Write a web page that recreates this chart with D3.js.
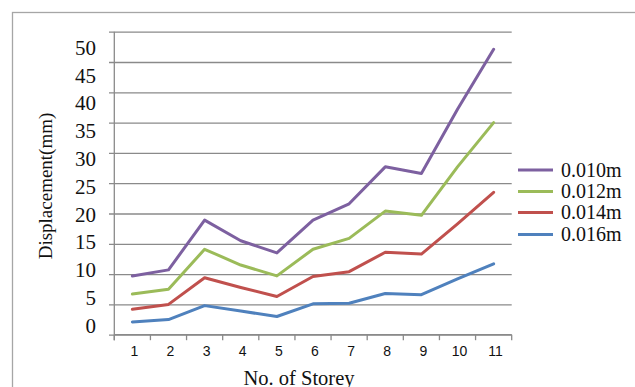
<!DOCTYPE html>
<html>
<head>
<meta charset="utf-8">
<script src="https://cdn.jsdelivr.net/npm/d3@7"></script>
<style>
  html, body { margin: 0; padding: 0; background: #fff; }
  svg { display: block; }
</style>
</head>
<body>
<svg id="chart" width="635" height="387"></svg>
<script>
// Storey numbers along the horizontal axis
const storeys = [1, 2, 3, 4, 5, 6, 7, 8, 9, 10, 11];

// Displacement (mm) per storey for each case
const d010 = [9.7, 10.7, 18.9, 15.5, 13.5, 18.9, 21.6, 27.7, 26.6, 37.2, 47.1];
const d012 = [6.7, 7.5, 14.1, 11.5, 9.7, 14.1, 15.9, 20.4, 19.7, 27.7, 35.0];
const d014 = [4.2, 5.0, 9.4, 7.8, 6.3, 9.6, 10.4, 13.6, 13.3, 18.3, 23.5];
const d016 = [2.1, 2.5, 4.8, 3.9, 3.0, 5.1, 5.2, 6.8, 6.6, 9.2, 11.7];

const seriesNames = ["0.010m", "0.012m", "0.014m", "0.016m"];
const seriesValues = [d010, d012, d014, d016];
const seriesColors = ["#7d60a0", "#9bbb59", "#c0504d", "#4f81bd"];

// Value-axis tick labels
const yTicks = [0, 5, 10, 15, 20, 25, 30, 35, 40, 45, 50];

const svg = d3.select("#chart");
const serif = "'Liberation Serif', 'Times New Roman', serif";
const sans = "'Liberation Sans', Arial, sans-serif";
const gridColor = "#8a8a8a";

// Chart frame
svg.append("rect")
  .attr("x", 12.5).attr("y", 12.5)
  .attr("width", 700).attr("height", 500)
  .attr("fill", "none").attr("stroke", "#a6a6a6").attr("stroke-width", 1.3);

const plotLeft = 114.3, plotRight = 511.7, plotTop = 31.7, plotBottom = 334.7;

const x = d3.scaleBand().domain(storeys).range([plotLeft, plotRight]).padding(0);
const y = d3.scaleLinear().domain([0, 50]).range([plotBottom, plotTop]);
// Value labels sit on their own, slightly tighter spacing
const yLabel = d3.scaleLinear().domain([0, 50]).range([325, 47.3]);

// Horizontal gridlines (with short stubs left of the axis)
const grid = svg.append("g")
  .attr("transform", `translate(${plotLeft - 5.3},0)`)
  .call(d3.axisLeft(y).tickValues(yTicks).tickSize(-(plotRight - plotLeft + 5.3)).tickFormat(""));
grid.select(".domain").remove();
grid.selectAll(".tick line").attr("stroke", gridColor).attr("stroke-width", 1.3);

// Vertical axis line
svg.append("line")
  .attr("x1", plotLeft).attr("x2", plotLeft)
  .attr("y1", plotTop).attr("y2", plotBottom + 5.5)
  .attr("stroke", gridColor).attr("stroke-width", 1.3);

// Value labels
const yl = svg.append("g")
  .attr("transform", "translate(96,0)")
  .call(d3.axisLeft(yLabel).tickValues(yTicks).tickSize(0).tickPadding(0));
yl.select(".domain").remove();
yl.selectAll("text")
  .attr("font-family", serif).attr("font-size", 21)
  .attr("fill", "#111").attr("dy", "0.34em");

// Category axis: baseline and tick marks at band edges
const xEdges = storeys.map(s => x(s)).concat([x(storeys[storeys.length - 1]) + x.bandwidth()]);
svg.append("line")
  .attr("x1", plotLeft).attr("x2", plotRight)
  .attr("y1", plotBottom).attr("y2", plotBottom)
  .attr("stroke", gridColor).attr("stroke-width", 1.3);
svg.append("g").selectAll("line").data(xEdges).join("line")
  .attr("x1", d => d).attr("x2", d => d)
  .attr("y1", plotBottom).attr("y2", plotBottom + 5.5)
  .attr("stroke", gridColor).attr("stroke-width", 1.3);

// Category labels
const xl = svg.append("g")
  .attr("transform", `translate(2,${plotBottom})`)
  .call(d3.axisBottom(x).tickSize(0).tickPadding(11));
xl.select(".domain").remove();
xl.selectAll("text")
  .attr("font-family", sans).attr("font-size", 14).attr("fill", "#111");

// Series lines
const line = d3.line()
  .x((d, i) => x(storeys[i]) + x.bandwidth() / 2)
  .y(d => y(d));

svg.append("g").selectAll("path")
  .data(seriesValues.map((v, i) => ({ v, c: seriesColors[i] })).reverse())
  .join("path")
  .attr("d", d => line(d.v))
  .attr("fill", "none")
  .attr("stroke", d => d.c)
  .attr("stroke-width", 3)
  .attr("stroke-linejoin", "round")
  .attr("stroke-linecap", "round");

// Legend
const legend = svg.append("g");
const legendY = [170, 191.5, 212.5, 234.5];
seriesNames.forEach((name, i) => {
  legend.append("line")
    .attr("x1", 518).attr("x2", 553)
    .attr("y1", legendY[i]).attr("y2", legendY[i])
    .attr("stroke", seriesColors[i]).attr("stroke-width", 3);
  legend.append("text")
    .attr("x", 561).attr("y", legendY[i])
    .attr("dy", "0.33em")
    .attr("font-family", serif).attr("font-size", 20)
    .attr("fill", "#111")
    .text(name);
});

// Axis titles
svg.append("text")
  .attr("x", 299).attr("y", 385)
  .attr("text-anchor", "middle")
  .attr("font-family", serif).attr("font-size", 20.5)
  .attr("fill", "#111")
  .text("No. of Storey");

svg.append("text")
  .attr("transform", "translate(52,186) rotate(-90)")
  .attr("text-anchor", "middle")
  .attr("font-family", serif).attr("font-size", 19)
  .attr("fill", "#111")
  .text("Displacement(mm)");
</script>
</body>
</html>
